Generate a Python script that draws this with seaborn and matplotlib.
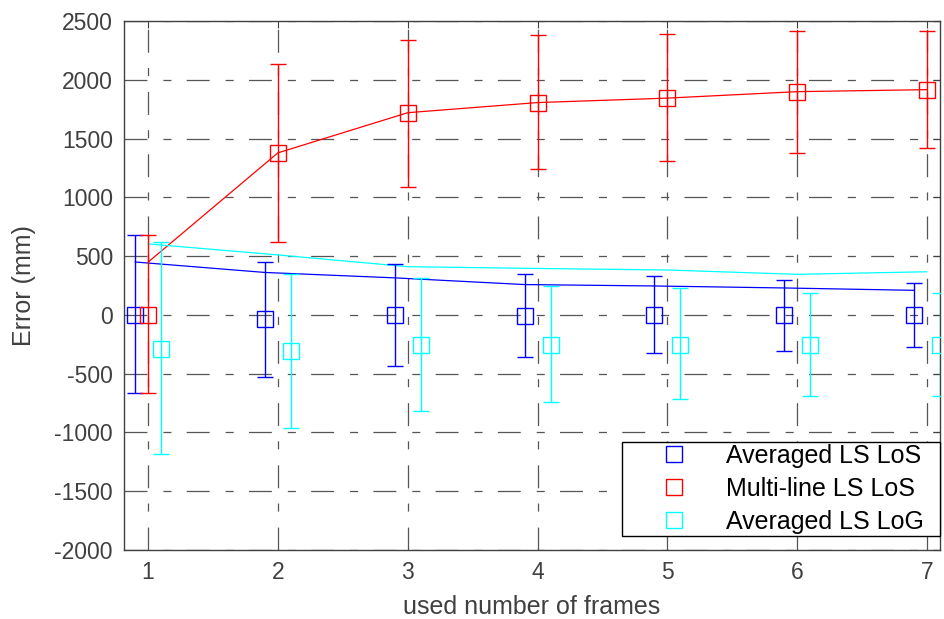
import matplotlib
matplotlib.use("Agg")
import matplotlib.pyplot as plt
import seaborn as sns
import numpy as np
import pandas as pd
from matplotlib.lines import Line2D

frames = [1, 2, 3, 4, 5, 6, 7]

blue_mean = [0, -32, 0, -12, 0, 0, 0]
blue_low = [-668, -528, -435, -358, -322, -307, -272]
blue_high = [676, 450, 432, 344, 328, 297, 275]

red_mean = [0, 1378, 1720, 1806, 1844, 1899, 1916]
red_low = [-668, 620, 1086, 1238, 1310, 1379, 1416]
red_high = [676, 2135, 2341, 2378, 2386, 2416, 2416]

cyan_mean = [-292, -307, -255, -255, -259, -259, -259]
cyan_low = [-1184, -963, -815, -745, -718, -687, -687]
cyan_high = [616, 346, 315, 243, 229, 190, 190]

blue_line = [450, 361, 315, 258, 246, 229, 209]
red_line = [448, 1378, 1720, 1806, 1844, 1899, 1916]
cyan_line = [604, 510, 410, 395, 382, 345, 367]

labels = ["Averaged LS LoS", "Multi-line LS LoS", "Averaged LS LoG"]
colors = ["#0000ff", "#ff0000", "#00ffff"]
offsets = [-0.1, 0.0, 0.1]

sns.set_theme(style="white")
plt.rcParams["font.family"] = ["Liberation Sans", "DejaVu Sans"]
plt.rcParams["lines.scale_dashes"] = False

fig = plt.figure(figsize=(9.44, 6.19), dpi=100)
ax = fig.add_axes([124 / 944, 1 - 550 / 619, 816 / 944, 529 / 619])

x = np.array(frames, dtype=float)
means = [blue_mean, red_mean, cyan_mean]
lows = [blue_low, red_low, cyan_low]
highs = [blue_high, red_high, cyan_high]
lines = [blue_line, red_line, cyan_line]
line_off = [-0.1, 0.0, 0.0]

# trend lines via seaborn
line_df = pd.concat([
    pd.DataFrame({"x": x + line_off[i], "y": lines[i], "series": labels[i]})
    for i in range(3)
])
sns.lineplot(data=line_df, x="x", y="y", hue="series", palette=colors,
             hue_order=labels, linewidth=0.9, legend=False, ax=ax,
             estimator=None, sort=False)

for i in range(3):
    m = np.array(means[i])
    lo = m - np.array(lows[i])
    hi = np.array(highs[i]) - m
    ax.errorbar(x + offsets[i], m, yerr=[lo, hi], fmt="none",
                ecolor=colors[i], elinewidth=1.0, capsize=5.8, capthick=1.0,
                zorder=3)

pt_df = pd.concat([
    pd.DataFrame({"x": x + offsets[i], "y": means[i], "series": labels[i]})
    for i in range(3)
])
for i in range(3):
    d = pt_df[pt_df["series"] == labels[i]]
    ax.plot(d["x"], d["y"], linestyle="none", marker="s", markersize=11.5,
            markerfacecolor="none", markeredgecolor=colors[i],
            markeredgewidth=1.0, zorder=4, clip_on=True)

ax.set_xlim(0.815, 7.1)
ax.set_ylim(-2000, 2500)
ax.set_xticks(frames)
ax.set_yticks(np.arange(-2000, 2501, 500))
ax.set_yticklabels([str(v) for v in range(-2000, 2501, 500)])

ax.grid(True, color="#555555", linewidth=0.9, dashes=(16.5, 11.5, 5.8, 11))
ax.set_axisbelow(True)

tick_col = "#404040"
ax.tick_params(axis="both", direction="in", length=5, width=0.8,
               colors="#404040", labelsize=16.5, labelcolor=tick_col,
               top=True, right=True, pad=8)
for s in ax.spines.values():
    s.set_color("#404040")
    s.set_linewidth(1.0)

ax.set_xlabel("used number of frames", fontsize=18, color=tick_col, labelpad=8)
ax.set_ylabel("Error (mm)", fontsize=18, color=tick_col, labelpad=13)

handles = [Line2D([], [], linestyle="none", marker="s", markersize=11.5,
                  markerfacecolor="none", markeredgecolor=c, markeredgewidth=1.0)
           for c in colors]
leg = ax.legend(handles, labels, loc="lower right",
                bbox_to_anchor=(0.61, 0.026, 0.39, 0.176), mode="expand",
                fontsize=18, frameon=True, fancybox=False, framealpha=1,
                edgecolor="black", borderpad=0.08, labelspacing=0.36,
                handlelength=4.0, handletextpad=0.1, borderaxespad=0)
leg.get_frame().set_linewidth(1.0)
for t in leg.get_texts():
    t.set_color("black")

fig.savefig("out.png", dpi=100)
